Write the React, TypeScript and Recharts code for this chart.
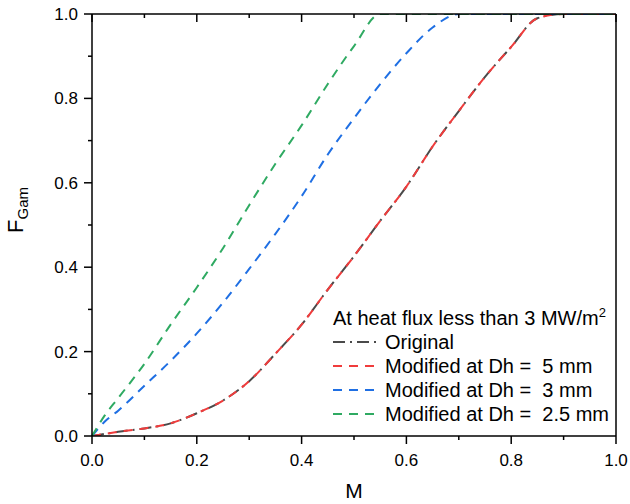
import React from "react";
import { LineChart, Line, XAxis, YAxis } from "recharts";

// M values where the curves were read
const mGrid = [0, 0.025, 0.05, 0.1, 0.15, 0.2, 0.25, 0.3, 0.35, 0.4, 0.45, 0.5, 0.55, 0.6, 0.65, 0.7, 0.75, 0.8, 0.85, 0.9, 0.95, 1.0];

const original = [0, 0.005, 0.01, 0.018, 0.03, 0.054, 0.084, 0.13, 0.195, 0.264, 0.347, 0.426, 0.51, 0.591, 0.686, 0.77, 0.851, 0.922, 0.99, 1, 1, 1];
const dh5 = [0, 0.005, 0.01, 0.018, 0.03, 0.054, 0.084, 0.13, 0.195, 0.264, 0.347, 0.426, 0.51, 0.591, 0.686, 0.77, 0.851, 0.922, 0.99, 1, 1, 1];
const dh3 = [0, 0.035, 0.06, 0.119, 0.178, 0.243, 0.316, 0.396, 0.479, 0.568, 0.667, 0.753, 0.834, 0.907, 0.968, 1, 1, 1, 1, 1, 1, 1];
const dh25 = [0, 0.05, 0.09, 0.171, 0.264, 0.352, 0.445, 0.547, 0.645, 0.736, 0.834, 0.924, 1, 1, 1, 1, 1, 1, 1, 1, 1, 1];

const axisTicks = [0, 0.1, 0.2, 0.3, 0.4, 0.5, 0.6, 0.7, 0.8, 0.9, 1.0];

const legendTitle = "At heat flux less than 3 MW/m";
const seriesNames = ["Original", "Modified at Dh =  5 mm", "Modified at Dh =  3 mm", "Modified at Dh =  2.5 mm"];
const seriesKeys = ["original", "dh5", "dh3", "dh25"];
const seriesColors = ["#4a4a4a", "#f03c3c", "#1f6fe3", "#2faa62"];
const seriesDash = ["12 5 2 5", "9 7", "9 7", "9 7"];

const data = mGrid.map((m, i) => ({
  m,
  original: original[i],
  dh5: dh5[i],
  dh3: dh3[i],
  dh25: dh25[i],
}));

const FONT = '"Liberation Sans", Arial, sans-serif';
const isMajor = (v: number) => Math.round(v * 10) % 2 === 0;
const tickLen = (v: number) => (isMajor(v) ? 8 : 4);

function BottomTick(p: any) {
  const v = p.payload.value;
  return (
    <g>
      <line x1={p.x} x2={p.x} y1={p.y} y2={p.y + tickLen(v)} stroke="#000" strokeWidth={1.5} />
      {isMajor(v) && (
        <text x={p.x} y={p.y + 30} textAnchor="middle" fontSize={17} fill="#000" fontFamily={FONT}>
          {v.toFixed(1)}
        </text>
      )}
    </g>
  );
}

function LeftTick(p: any) {
  const v = p.payload.value;
  return (
    <g>
      <line x1={p.x - tickLen(v)} x2={p.x} y1={p.y} y2={p.y} stroke="#000" strokeWidth={1.5} />
      {isMajor(v) && (
        <text x={p.x - 14} y={p.y + 6} textAnchor="end" fontSize={17} fill="#000" fontFamily={FONT}>
          {v.toFixed(1)}
        </text>
      )}
    </g>
  );
}

function TopTick(p: any) {
  const v = p.payload.value;
  return <line x1={p.x} x2={p.x} y1={p.y} y2={p.y + tickLen(v)} stroke="#000" strokeWidth={1.5} />;
}

function RightTick(p: any) {
  const v = p.payload.value;
  return <line x1={p.x - tickLen(v)} x2={p.x} y1={p.y} y2={p.y} stroke="#000" strokeWidth={1.5} />;
}

function YTitle(p: any) {
  const vb = p.viewBox;
  const cx = vb.x + 23;
  const cy = vb.y + vb.height / 2 - 15;
  return (
    <text transform={`translate(${cx},${cy}) rotate(-90)`} textAnchor="middle" fontSize={22} fill="#000" fontFamily={FONT}>
      F
      <tspan fontSize={15} dy={5}>
        Gam
      </tspan>
    </text>
  );
}

function XTitle(p: any) {
  const vb = p.viewBox;
  return (
    <text x={vb.x + vb.width / 2} y={vb.y + 62} textAnchor="middle" fontSize={21} fill="#000" fontFamily={FONT}>
      M
    </text>
  );
}

const axisLine = { stroke: "#000", strokeWidth: 1.5 };

export default function App() {
  return (
    <div style={{ position: "absolute", left: 0, top: 0, width: 630, height: 504, background: "#fff", fontFamily: FONT }}>
      <LineChart width={630} height={504} data={data} margin={{ top: 0, right: 0, bottom: 0, left: 0 }}>
        <XAxis
          dataKey="m"
          type="number"
          domain={[0, 1]}
          ticks={axisTicks}
          interval={0}
          height={68}
          tickSize={0}
          tickMargin={0}
          tickLine={false}
          axisLine={axisLine}
          tick={(p: any) => <BottomTick {...p} />}
          label={(p: any) => <XTitle {...p} />}
        />
        <XAxis
          xAxisId="top"
          orientation="top"
          dataKey="m"
          type="number"
          domain={[0, 1]}
          ticks={axisTicks}
          interval={0}
          height={14}
          tickSize={0}
          tickMargin={0}
          tickLine={false}
          axisLine={axisLine}
          tick={(p: any) => <TopTick {...p} />}
        />
        <YAxis
          type="number"
          domain={[0, 1]}
          ticks={axisTicks}
          interval={0}
          width={92}
          tickSize={0}
          tickMargin={0}
          tickLine={false}
          axisLine={axisLine}
          allowDataOverflow
          tick={(p: any) => <LeftTick {...p} />}
          label={(p: any) => <YTitle {...p} />}
        />
        <YAxis
          yAxisId="right"
          orientation="right"
          type="number"
          domain={[0, 1]}
          ticks={axisTicks}
          interval={0}
          width={14}
          tickSize={0}
          tickMargin={0}
          tickLine={false}
          axisLine={axisLine}
          tick={(p: any) => <RightTick {...p} />}
        />
        {seriesKeys.map((k, i) => (
          <Line
            key={k}
            type="monotone"
            dataKey={k}
            name={seriesNames[i]}
            stroke={seriesColors[i]}
            strokeWidth={2}
            strokeDasharray={seriesDash[i]}
            dot={false}
            activeDot={false}
            isAnimationActive={false}
          />
        ))}
      </LineChart>
      <div style={{ position: "absolute", left: 333, top: 306, fontSize: 20, lineHeight: "24px", color: "#000", whiteSpace: "pre" }}>
        <div>
          {legendTitle}
          <sup style={{ fontSize: 13, verticalAlign: "top", lineHeight: "14px" }}>2</sup>
        </div>
        {seriesNames.map((n, i) => (
          <div key={n} style={{ display: "flex", alignItems: "center", height: 24 }}>
            <svg width={47} height={24} style={{ marginRight: 5 }}>
              <line x1={0} x2={47} y1={12} y2={12} stroke={seriesColors[i]} strokeWidth={2} strokeDasharray={seriesDash[i]} />
            </svg>
            <span>{n}</span>
          </div>
        ))}
      </div>
    </div>
  );
}
